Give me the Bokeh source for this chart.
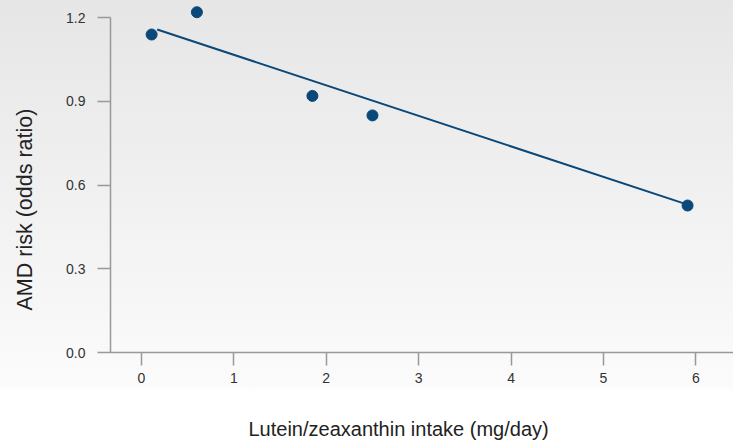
from bokeh.plotting import figure
from bokeh.models import Title, FixedTicker, Range1d, LinearAxis
from bokeh.embed import file_html
from bokeh.resources import INLINE

# data
intake = [0.11, 0.60, 1.85, 2.50, 5.91]
odds_ratio = [1.14, 1.22, 0.92, 0.85, 0.527]
trend_x = [0.17, 5.91]
trend_y = [1.158, 0.530]
x_ticks = [0, 1, 2, 3, 4, 5, 6]
y_ticks = [0.0, 0.3, 0.6, 0.9, 1.2]
x_title = "Lutein/zeaxanthin intake (mg/day)"
y_title = "AMD risk (odds ratio)"

BLUE = "#0a4879"
FONT = "Liberation Sans"
X0, X1 = -0.335, 6.407
Y0, Y1 = 0, 1.262

p = figure(width=733, height=443, output_backend="svg", toolbar_location=None,
           x_range=Range1d(X0, X1), y_range=Range1d(Y0, Y1),
           min_border_left=110, min_border_right=0, min_border_top=0,
           min_border_bottom=91)
p.styles = {"background": "linear-gradient(to bottom, #e6e6e6 0px, #fbfbfb 385px, #ffffff 392px, #ffffff 100%)"}
p.background_fill_color = None
p.border_fill_color = None
p.outline_line_color = None
p.grid.visible = False

p.line(trend_x, trend_y, line_color=BLUE, line_width=2)
p.scatter(intake, odds_ratio, size=11, fill_color=BLUE, line_color=BLUE)

for ax in (p.xaxis[0], p.yaxis[0]):
    ax.axis_line_color = "#999999"
    ax.axis_line_width = 1.5
    ax.major_tick_line_color = "#999999"
    ax.major_tick_line_width = 1.5
    ax.major_tick_out = 13
    ax.major_tick_in = 0
    ax.minor_tick_line_color = None
    ax.major_label_text_font = FONT
    ax.major_label_text_font_size = "14px"
    ax.major_label_text_color = "#333333"

p.xaxis[0].ticker = FixedTicker(ticks=x_ticks)
p.xaxis[0].major_label_standoff = 7
p.yaxis[0].ticker = FixedTicker(ticks=y_ticks)
p.yaxis[0].major_label_standoff = 12
p.yaxis[0].bounds = (0, 1.2)
p.yaxis[0].major_label_overrides = {t: f"{t:.1f}" for t in y_ticks}


def spacer(size, at):
    # practically invisible axis used only to reserve room before the title
    return LinearAxis(ticker=FixedTicker(ticks=[at]), axis_line_color=None,
                      minor_tick_line_color=None,
                      major_tick_line_color="#ffffff", major_tick_line_alpha=0.01,
                      major_tick_out=size, major_tick_in=0,
                      major_label_standoff=0, major_label_text_font_size="0px",
                      major_label_overrides={at: ""})


p.add_layout(spacer(30, X0), "below")
p.add_layout(spacer(27, Y0), "left")

xt = Title(text=x_title, align="left", offset=138, standoff=0,
           text_font=FONT, text_font_size="20px", text_font_style="normal",
           text_color="#222222")
p.add_layout(xt, "below")
yt = Title(text=y_title, align="left", offset=42, standoff=0,
           text_font=FONT, text_font_size="21.5px", text_font_style="normal",
           text_color="#222222")
p.add_layout(yt, "left")

open("out.html", "w").write(file_html(p, INLINE))
